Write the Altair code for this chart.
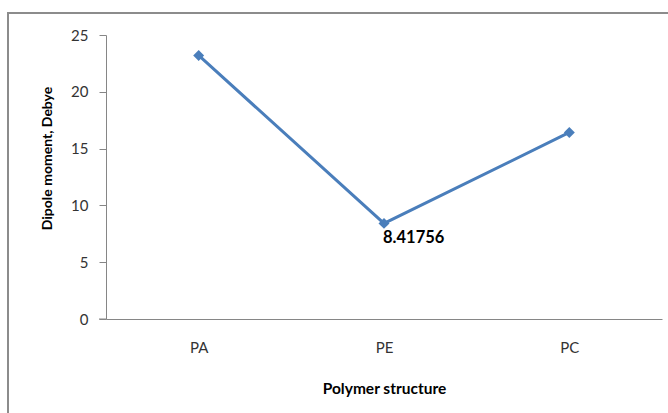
import altair as alt
import pandas as pd

# Dipole moment per polymer structure
structures = ["PA", "PE", "PC"]
dipole = [23.2, 8.41756, 16.42]
labelled = ["PE"]

df = pd.DataFrame({"structure": structures, "dipole": dipole})

W, H = 556, 284
AXIS_GRAY = "#868686"
LINE_BLUE = "#4A7EBB"
FONT = "Lato"

x = alt.X(
    "structure:N",
    sort=structures,
    scale=alt.Scale(paddingInner=0, paddingOuter=0.0),
    axis=alt.Axis(
        title="Polymer structure",
        labelAngle=0,
        ticks=False,
        tickSize=0,
        labelPadding=21,
        titleY=69,
        titleBaseline="middle",
        titleFontSize=15.5,
    ),
)
y = alt.Y(
    "dipole:Q",
    scale=alt.Scale(domain=[0, 25], nice=False),
    axis=alt.Axis(
        title="Dipole moment, Debye",
        values=[0, 5, 10, 15, 20, 25],
        tickSize=7,
        labelPadding=11,
        titleX=-59,
        titleY=123,
        titleAngle=-90,
        titleAlign="center",
        titleBaseline="middle",
        grid=False,
    ),
)

base = alt.Chart(df)

line = base.mark_line(color=LINE_BLUE, strokeWidth=3).encode(x=x, y=y)
points = base.mark_point(
    shape="diamond", filled=True, size=120, color=LINE_BLUE, opacity=1
).encode(x=x, y=y)

value_label = (
    base.transform_filter(alt.FieldOneOfPredicate(field="structure", oneOf=labelled))
    .mark_text(
        align="left",
        baseline="middle",
        dx=-1,
        dy=15,
        font=FONT,
        fontSize=16.5,
        fontWeight="bold",
        color="#000000",
    )
    .encode(x=x, y=y, text=alt.Text("dipole:Q", format=".5f"))
)

one = alt.Chart(pd.DataFrame({"k": [0]}))

# outer chart frame
frame = one.mark_rect(fill=None, stroke="#8c8c8c", strokeWidth=2).encode(
    x=alt.value(-98), x2=alt.value(620), y=alt.value(-22), y2=alt.value(400)
)

# category axis line runs past the value axis by one tick length
axis_stub = one.mark_rule(color=AXIS_GRAY, strokeWidth=1).encode(
    x=alt.value(-7), x2=alt.value(0), y=alt.value(H)
)

chart = (
    alt.layer(frame, axis_stub, line, points, value_label)
    .properties(
        width=W,
        height=H,
        autosize=alt.AutoSizeParams(type="none"),
        padding={"left": 106, "top": 35, "right": 6, "bottom": 94},
        background="white",
    )
    .configure_view(stroke=None)
    .configure_axis(
        domainColor=AXIS_GRAY,
        tickColor=AXIS_GRAY,
        domainWidth=1,
        tickWidth=1,
        labelFont=FONT,
        labelFontSize=15,
        labelColor="#333333",
        titleFont=FONT,
        titleFontSize=14,
        titleFontWeight="bold",
        titleColor="#000000",
    )
)

chart.save("out.html", embed_options={"renderer": "svg", "actions": False})
